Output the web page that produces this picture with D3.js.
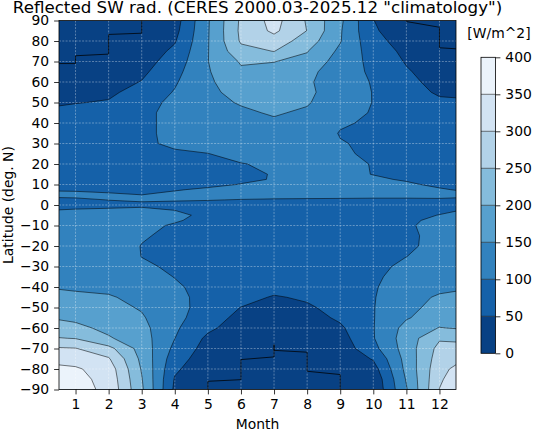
<!DOCTYPE html>
<html><head><meta charset="utf-8">
<script src="https://cdn.jsdelivr.net/npm/d3@7"></script>
<style>
body{margin:0;background:#fff}
text{font-family:"DejaVu Sans",sans-serif;fill:#000}
</style>
</head><body>
<svg id="chart" width="534" height="433"></svg>
<script>
// ---------- data ----------
const months = [0.5,1,2,3,4,5,6,7,8,9,10,11,12,12.5];
const lats = [-90,-85,-80,-75,-70,-65,-60,-55,-50,-45,-40,-35,-30,-25,-20,-15,-10,-7.5,-5,-2.5,0,2.5,5,7.5,10,12.5,15,20,25,30,35,40,45,50,55,60,65,70,75,80,85,90];
// reflected SW (W/m^2) per month column, south -> north
const mHalf  = [372,366,358,338,305,252,220,195,175,160, 147,138,132,128,126,125,124, 122,120,100.5, 90, 92,110,96,92,90,89, 87,85,84,82,76,62,44,35,25,15,8,4,2,1,0];
const m1     = [366,364,356,330,302,248,212,190,172,157, 145,136,130,126,124,123,122, 120,118,102, 92, 95,108,96,92,90,89, 87,85,84,82,77,66,48,38,28,18,10,5,2,1,0];
const m2     = [340,335,328,305,265,205,188,175,164,154, 140,130,124,120,118,118,116, 114,112,104, 93, 100.5,106,90,88,87,86, 85,84,83,82,80,72,54,40,30,20,12,6,3,1,0];
const m3     = [208,203,196,188,180,172,165,155,146,138, 128,115,104,99.5,99,103,110, 112,110,106, 95, 103,99.8,93,90,88,87, 86,90,95,92,88,88,84,70,52,40,30,20,14,8,5];
const m4     = [40,46,58,72,88,100.5,107,113,115,112, 105,99,96,93,92,93,96, 104,110,99.6, 87, 104,106,98,92,90,90, 92,96,105,110,115,115,110,103,95,85,72,60,46,35,28];
const m5     = [3,8,15,22,30,40,60,75,82,85, 88,88,87,86,85,84,86, 88,90,92, 92, 101,108,104,94,90,88, 92,99.5,110,118,125,130,135,138,142,146,149,148,147,146,145];
const m6     = [0,1,3,6,12,18,25,35,49,70, 80,85,86,85,84,84,86, 88,90,92, 92, 99,110,112,101,95,94, 99,108,118,126,134,142,154,168,180,192,205,235,256,260,258];
const m7     = [0,0,0,0,2,6,12,20,30,45, 70,78,82,83,84,85,86, 87,88,90, 90, 98,108,110,106,101.5,101.5, 104,110,120,130,142,155,165,172,180,188,201,251,280,310,318];
const m8     = [0,0,0,3,8,14,22,30,42,58, 74,80,84,85,85,85,86, 87,88,90, 90, 98,106,108,106,105,105, 106,110,116,124,132,142,155,162,158,165,188,202,225,249,245];
const m9     = [0,2,6,12,20,30,42,58,70,78, 82,84,85,85,85,85,86, 87,88,90, 90, 98,105,106,106,105,105, 106,105,102,98,104,110,114,118,118,120,126,140,153,155,160];
const m10    = [8,12,30,54,85,97,98,98,98,97, 95,92,90,89,88,87,87, 88,88,90, 90, 98,104,106,105,103,99.5, 99,94,94,93,95,98,99.3,99,97.5,93,88,78,65,56,51];
const m11    = [146,154,163,167,172,174,166,146,140,135, 128,118,108,99.5,93,92,94, 92,90,90, 88, 98,104,105,103,98,93, 88,85,82,80,78,76,73,68,62,55,46,38,30,22,18];
const m12    = [301,293,285,275,265,244,202,175,162,155, 140,128,120,115,112,112,115, 110,101,93, 88, 98,105,102,96,92,90, 88,86,85,84,80,72,58,44,35,26,18,12,6,3,1];
const m12Half= [335,322,310,286,262,243,197,182,170,160, 143,132,125,120,117,116,115, 112,108,98, 88, 96,106,99,94,92,90, 88,86,85,84,80,72,55,44,35,26,18,12,6,3,1];
// polar-night (zero) boundaries [month, lat]
const nightNorthWest = [[0.5,69],[1,69],[1,72.8],[2,73.6],[2,83.2],[3,83.8],[3,90]];
const nightNorthEast = [[11,90],[11,89.5],[12,86.7],[12,76.7],[12.5,76.2]];
const nightSouth = [[5,-90],[5,-86],[6,-85.2],[6,-75.4],[7,-74.1],[7,-68.1],[7,-70.9],[8,-71.8],[8,-81.1],[9,-82.7],[9,-90]];
const levels = [0,50,100,150,200,250,300,350,400];
const bandColors = ['#084184','#1561a9','#3282be','#57a0ce','#85bcdc','#b2d2e8','#d2e3f3','#ebf3fb'];
const monthTicks = [1,2,3,4,5,6,7,8,9,10,11,12];
const latTicks = [-90,-80,-70,-60,-50,-40,-30,-20,-10,0,10,20,30,40,50,60,70,80,90];
const title = 'Reflected SW rad. (CERES 2000.03-2025.12 "climatology")';

// ---------- layout ----------
const L = 59, R = 456, T = 20.5, B = 389.5;
const FS = 13.9;
const svg = d3.select('#chart');
const x = d3.scaleLinear().domain([0.5,12.5]).range([L,R]);
const y = d3.scaleLinear().domain([-90,90]).range([B,T]);

const cols = [mHalf,m1,m2,m3,m4,m5,m6,m7,m8,m9,m10,m11,m12,m12Half];
const nx = months.length, ny = lats.length;
const values = new Array(nx*ny);
for (let j=0;j<ny;j++) for (let i=0;i<nx;i++) values[j*nx+i] = cols[i][j];

const ix = d3.scaleLinear().domain(d3.range(nx).map(i=>i+0.5)).range(months);
const iy = d3.scaleLinear().domain(d3.range(ny).map(j=>j+0.5)).range(lats);
const path = d3.geoPath(d3.geoTransform({point(px,py){ this.stream.point(x(ix(px)), y(iy(py))); }}));

const conts = d3.contours().size([nx,ny]).thresholds(levels.slice(0,-1))(values);

svg.append('defs').append('clipPath').attr('id','clip')
  .append('rect').attr('x',L).attr('y',T).attr('width',R-L).attr('height',B-T);

const plot = svg.append('g').attr('clip-path','url(#clip)');
plot.append('rect').attr('x',L).attr('y',T).attr('width',R-L).attr('height',B-T).attr('fill',bandColors[0]);
plot.selectAll('path.band').data(conts.slice(1)).join('path')
  .attr('class','band').attr('d',path).attr('fill',(d,i)=>bandColors[i+1]).attr('fill-rule','evenodd');

// grid (under the contour lines)
const grid = plot.append('g')
  .attr('stroke','#fff').attr('stroke-opacity',0.33).attr('stroke-width',1).attr('stroke-dasharray','2,1.3');
grid.selectAll('line.v').data(monthTicks).join('line').attr('class','v')
  .attr('x1',d=>x(d)).attr('x2',d=>x(d)).attr('y1',T).attr('y2',B);
grid.selectAll('line.h').data(latTicks.filter(d=>d>-90&&d<90)).join('line').attr('class','h')
  .attr('y1',d=>y(d)).attr('y2',d=>y(d)).attr('x1',L).attr('x2',R);

plot.selectAll('path.iso').data(conts.slice(1)).join('path')
  .attr('class','iso').attr('d',path).attr('fill','none')
  .attr('stroke','#000').attr('stroke-opacity',0.75).attr('stroke-width',0.7);

const line = d3.line().x(d=>x(d[0])).y(d=>y(d[1]));
plot.selectAll('path.night').data([nightNorthWest,nightNorthEast,nightSouth]).join('path')
  .attr('class','night').attr('d',line).attr('fill','none')
  .attr('stroke','#000').attr('stroke-opacity',0.85).attr('stroke-width',0.9);

// frame
svg.append('rect').attr('x',L).attr('y',T).attr('width',R-L).attr('height',B-T)
  .attr('fill','none').attr('stroke','#000').attr('stroke-width',0.8);

// axes
const xa = svg.append('g').attr('transform',`translate(0,${B})`)
  .call(d3.axisBottom(x).tickValues(monthTicks).tickSize(4.9).tickPadding(4.9).tickSizeOuter(0));
const ya = svg.append('g').attr('transform',`translate(${L},0)`)
  .call(d3.axisLeft(y).tickValues(latTicks).tickSize(4.9).tickPadding(4.9).tickSizeOuter(0));
[xa,ya].forEach(a=>{
  a.select('.domain').remove();
  a.selectAll('line').attr('stroke','#000').attr('stroke-width',0.8);
  a.selectAll('text').attr('font-size',FS).attr('font-family','DejaVu Sans').attr('fill','#000');
});

svg.append('text').attr('x',(L+R)/2).attr('y',429).attr('text-anchor','middle').attr('font-size',FS).text('Month');
svg.append('text').attr('transform',`translate(12.5,${(T+B)/2}) rotate(-90)`).attr('text-anchor','middle').attr('font-size',FS).text('Latitude (deg. N)');
svg.append('text').attr('x',(L+R)/2).attr('y',13).attr('text-anchor','middle').attr('font-size',16.7).text(title);

// colorbar
const cbL = 481, cbW = 14.5;
const cb = d3.scaleLinear().domain([0,400]).range([353.3,57.3]);
const cbg = svg.append('g');
cbg.selectAll('rect.cb').data(d3.range(levels.length-1)).join('rect').attr('class','cb')
  .attr('x',cbL).attr('width',cbW)
  .attr('y',i=>cb(levels[i+1])).attr('height',i=>cb(levels[i])-cb(levels[i+1]))
  .attr('fill',i=>bandColors[i]);
cbg.selectAll('line.sep').data(levels.slice(1,-1)).join('line').attr('class','sep')
  .attr('x1',cbL).attr('x2',cbL+cbW).attr('y1',d=>cb(d)).attr('y2',d=>cb(d))
  .attr('stroke','#000').attr('stroke-opacity',0.75).attr('stroke-width',0.7);
cbg.append('rect').attr('x',cbL).attr('y',cb(400)).attr('width',cbW).attr('height',cb(0)-cb(400))
  .attr('fill','none').attr('stroke','#000').attr('stroke-width',0.8);
const ca = svg.append('g').attr('transform',`translate(${cbL+cbW},0)`)
  .call(d3.axisRight(cb).tickValues(levels).tickSize(4.9).tickPadding(4.9).tickSizeOuter(0));
ca.select('.domain').remove();
ca.selectAll('line').attr('stroke','#000').attr('stroke-width',0.8);
ca.selectAll('text').attr('font-size',FS).attr('font-family','DejaVu Sans').attr('fill','#000');
svg.append('text').attr('x',499).attr('y',38).attr('text-anchor','middle').attr('font-size',FS).text('[W/m^2]');
</script>
</body></html>
